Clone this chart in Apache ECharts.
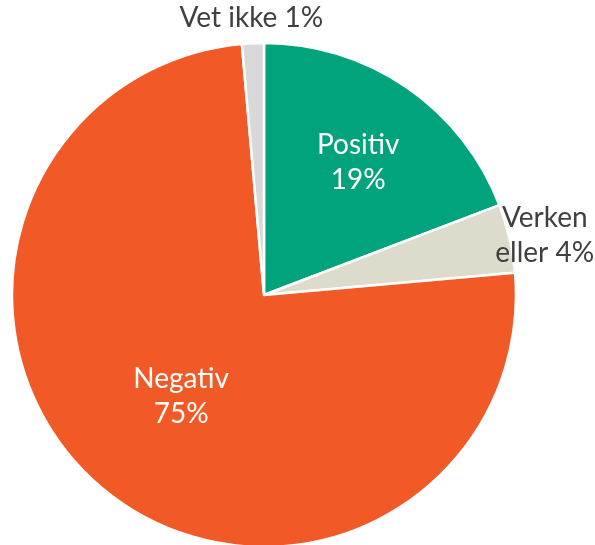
<!DOCTYPE html>
<html>
<head>
<meta charset="utf-8">
<script src="https://cdn.jsdelivr.net/npm/echarts@6/dist/echarts.min.js"></script>
<style>
  html, body { margin: 0; padding: 0; background: #fff; }
  #chart { width: 595px; height: 545px; }
</style>
</head>
<body>
<div id="chart"></div>
<script>
// svarfordeling, i prosent
const categories = ['Positiv', 'Verken\neller', 'Negativ', 'Vet ikke']
const values = [19.2, 4.4, 75.0, 1.4]
const shownPct = ['19%', '4%', '75%', '1%']

const colors = ['#00A37B', '#DDDCCC', '#F15A27', '#D9D9D9']
// label placement relative to the default 'inside' spot
const labelOffsets = [[21, -26], [155, -31], [0, 3], [-7, -148]]
const labelColors = ['#fff', '#404040', '#fff', '#404040']
// joins name and percent: newline for the big slices, space for the small ones
const joiners = ['\n', ' ', '\n', ' ']

const chart = echarts.init(document.getElementById('chart'))
chart.setOption({
  animation: false,
  series: [
    {
      type: 'pie',
      center: [264, 295],
      radius: [0, 252],
      startAngle: 90,
      clockwise: true,
      avoidLabelOverlap: false,
      itemStyle: {
        borderColor: '#fff',
        borderWidth: 2.5
      },
      labelLine: { show: false },
      label: {
        position: 'inside',
        fontFamily: 'Lato',
        fontSize: 28,
        lineHeight: 35
      },
      data: categories.map((name, i) => ({
        name: name,
        value: values[i],
        itemStyle: { color: colors[i] },
        label: {
          formatter: name + joiners[i] + shownPct[i],
          color: labelColors[i],
          offset: labelOffsets[i]
        }
      }))
    }
  ]
})
</script>
</body>
</html>
